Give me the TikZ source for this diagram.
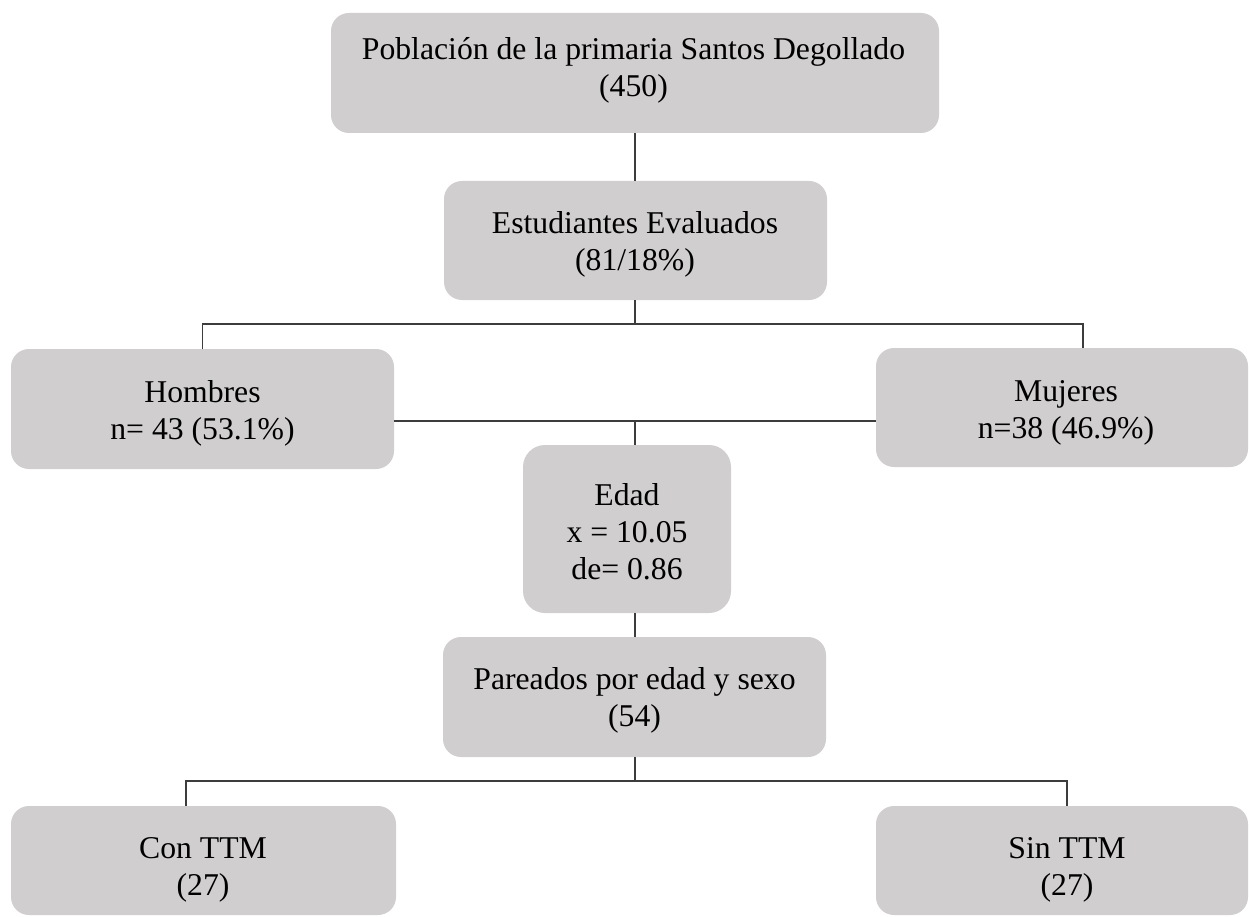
\documentclass[tikz,border=0pt]{standalone}
\usepackage{fontspec}
\setmainfont{Liberation Serif}
\definecolor{boxgray}{RGB}{208,206,206}
\definecolor{linegray}{RGB}{60,60,60}
\begin{document}
\begin{tikzpicture}[x=1pt,y=-1pt,
  box/.style={draw=none, fill=boxgray, rounded corners=18pt, inner sep=0pt},
  txt/.style={inner sep=0pt, align=center, font=\fontsize{31.7}{37}\selectfont},
  conn/.style={draw=linegray, line width=1.2pt}]
\useasboundingbox (0,0) rectangle (1249,917);
% boxes
\node[box, minimum width=608pt, minimum height=120pt] (top) at (635,73) {};
\node[box, minimum width=383pt, minimum height=119pt] (est) at (635.5,240.5) {};
\node[box, minimum width=383pt, minimum height=120pt] (hom) at (202.5,409) {};
\node[box, minimum width=372pt, minimum height=119pt] (muj) at (1062,407.5) {};
\node[box, rounded corners=22pt, minimum width=208pt, minimum height=168pt] (edad) at (627,529) {};
\node[box, minimum width=383pt, minimum height=120pt] (par) at (634.5,697) {};
\node[box, minimum width=385pt, minimum height=109pt] (con) at (203.5,860.5) {};
\node[box, minimum width=372pt, minimum height=109pt] (sin) at (1062,860.5) {};
% texts
\node[txt] (toptxt) at (633.5,70.5) {Población de la primaria Santos Degollado\\(450)};
\node[txt] (esttxt) at (635,244) {Estudiantes Evaluados\\(81/18\%)};
\node[txt] (homtxt) at (202.5,413) {Hombres\\n= 43 (53.1\%)};
\node[txt] (mujtxt) at (1066,413) {Mujeres\\n=38 (46.9\%)};
\node[txt] (edadtxt) at (627,532) {Edad\\x = 10.05\\de= 0.86};
\node[txt] (partxt) at (634.5,700) {Pareados por edad y sexo\\(54)};
\node[txt] (contxt) at (203,870) {Con TTM\\(27)};
\node[txt] (sintxt) at (1067,870) {Sin TTM\\(27)};
% junctions
\coordinate (j1) at (635,324);
\coordinate (j2) at (635,421);
\coordinate (j3) at (635,781);
\coordinate (mujdrop) at (1083,348);
\coordinate (condrop) at (186,806);
\coordinate (sindrop) at (1067,806);
% connectors
\draw[conn] (top.south -| j1) -- (est.north -| j1);
\draw[conn] (est.south -| j1) -- (j1);
\draw[conn] (hom.north) |- (j1) -| (mujdrop);
\draw[conn] (hom.east |- j2) -- (muj.west |- j2);
\draw[conn] (j2) -- (edad.north -| j2);
\draw[conn] (edad.south -| j2) -- (par.north -| j2);
\draw[conn] (par.south -| j3) -- (j3);
\draw[conn] (condrop) |- (j3) -| (sindrop);
\end{tikzpicture}
\end{document}
